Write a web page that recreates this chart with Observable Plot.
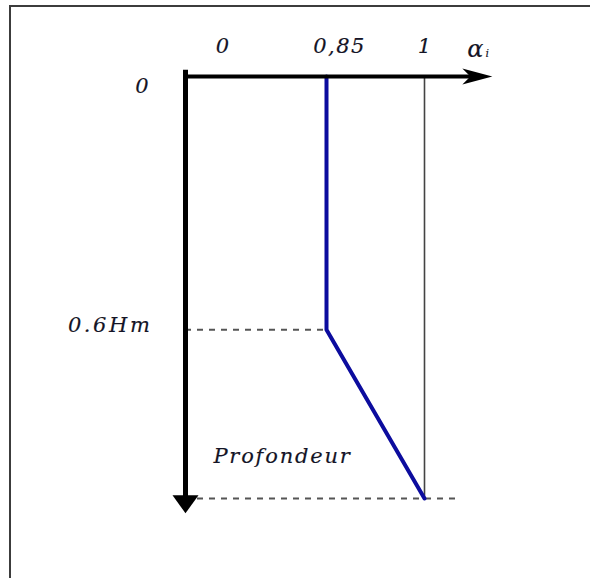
<!DOCTYPE html>
<html>
<head>
<meta charset="utf-8">
<script src="https://cdn.jsdelivr.net/npm/d3@7"></script>
<script src="https://cdn.jsdelivr.net/npm/@observablehq/plot@0.6"></script>
<style>
  html, body { margin: 0; padding: 0; background: #fff; }
  #wrap { position: relative; width: 590px; height: 578px; overflow: hidden; }
  #border { position: absolute; left: 9px; top: 5px; width: 600px; height: 600px;
            border-top: 2px solid #3c3c3c; border-left: 2px solid #3c3c3c; }
  #chart { position: absolute; left: 0; top: 0; }
  #chart svg text { letter-spacing: 1.5px; }
</style>
</head>
<body>
<div id="wrap"><div id="border"></div><div id="chart"></div></div>
<script>
// Coefficient alpha_i (x) versus depth as fraction of Hm (y)
const alphaTicks = [0, 0.85, 1];
const alphaLabels = ["0", "0,85", "1"];
const depthTicks = [0, 0.6];
const depthLabels = ["0", "0.6Hm"];
const profileAlpha = [0.85, 0.85, 1];
const profileDepth = [0, 0.6, 1];
const alphaAxisEnd = 1.08;      // tip of the alpha arrow
const alphaAxisLineEnd = 1.062; // where the shaft meets the arrowhead
const depthAxisEnd = 1.035;     // tip of the depth arrow
const depthAxisLineEnd = 0.995;
const depthAxisStart = -0.015;
const depthGuideEnd = 1.044;
const annotationText = ["Profondeur"];
const annotationAlpha = [0.7575];
const annotationDepth = [0.9];

const profile = profileAlpha.map((a, i) => ({alpha: a, depth: profileDepth[i]}));

const headRight = { draw(ctx) { ctx.moveTo(0, 0); ctx.lineTo(-8, 30); ctx.lineTo(0, 22); ctx.lineTo(8, 30); ctx.closePath(); } };
const headDown = { draw(ctx) { ctx.moveTo(0, 0); ctx.lineTo(-13, 18); ctx.lineTo(13, 18); ctx.closePath(); } };

const font = "'DejaVu Serif', serif";
const txt = {fontFamily: font, fontStyle: "italic", fontSize: 21, fill: "#141426", stroke: "#141426", strokeWidth: 0.15};

const plot = Plot.plot({
  width: 590,
  height: 578,
  margin: 0,
  x: {type: "pow", exponent: 3.247, domain: [0, 1], range: [185, 424], axis: null},
  y: {domain: [0, 1], range: [76, 498], axis: null},
  marks: [
    // dashed guides
    Plot.ruleY([profileDepth[1]], {x1: 0, x2: profileAlpha[1], stroke: "#555", strokeWidth: 2, strokeDasharray: "6,6"}),
    Plot.ruleY([profileDepth[2]], {x1: 0, x2: depthGuideEnd, stroke: "#555", strokeWidth: 2, strokeDasharray: "6,6"}),
    // thin line at alpha = 1
    Plot.ruleX([alphaTicks[2]], {y1: 0, y2: 1, stroke: "#444", strokeWidth: 1.6}),
    // profile
    Plot.line(profile, {x: "alpha", y: "depth", stroke: "#0c0c9e", strokeWidth: 4}),
    // axes
    Plot.ruleY([0], {x1: 0, x2: alphaAxisLineEnd, stroke: "#000", strokeWidth: 4, dx: -2}),
    Plot.ruleX([0], {y1: depthAxisStart, y2: depthAxisLineEnd, stroke: "#000", strokeWidth: 5}),
    Plot.dot([{x: alphaAxisEnd, y: 0}], {x: "x", y: "y", symbol: headRight, rotate: 90, fill: "#000", stroke: "none"}),
    Plot.dot([{x: 0, y: depthAxisEnd}], {x: "x", y: "y", symbol: headDown, rotate: 180, fill: "#000", stroke: "none"}),
    // top tick labels
    Plot.text([alphaLabels[0]], {x: alphaTicks[0], y: 0, text: d => d, dx: 37, dy: -30, ...txt}),
    Plot.text([alphaLabels[1]], {x: alphaTicks[1], y: 0, text: d => d, dx: 13, dy: -30, ...txt}),
    Plot.text([alphaLabels[2]], {x: alphaTicks[2], y: 0, text: d => d, dx: 0, dy: -30, ...txt}),
    Plot.text(["α"], {x: alphaAxisEnd, y: 0, text: d => d, dx: -17, dy: -27, ...txt, fontSize: 24}),
    Plot.text(["i"], {x: alphaAxisEnd, y: 0, text: d => d, dx: -5, dy: -23, ...txt, fontSize: 11, strokeWidth: 0.1}),
    // left tick labels
    Plot.text([depthLabels[0]], {x: 0, y: depthTicks[0], text: d => d, dx: -37, dy: 10, textAnchor: "end", ...txt}),
    Plot.text([depthLabels[1]], {x: 0, y: depthTicks[1], text: d => d, dx: -33, dy: -4, textAnchor: "end", ...txt}),
    // annotation
    Plot.text(annotationText, {x: annotationAlpha, y: annotationDepth, text: d => d, ...txt})
  ]
});
document.getElementById("chart").appendChild(plot);
const spacing = {"0.6Hm": "2.6px", "Profondeur": "1.8px", "α": "0px", "i": "0px", "0": "0px", "1": "0px"};
d3.select(plot).selectAll("text").each(function () {
  const s = spacing[this.textContent];
  if (s !== undefined) this.style.letterSpacing = s;
});
</script>
</body>
</html>
